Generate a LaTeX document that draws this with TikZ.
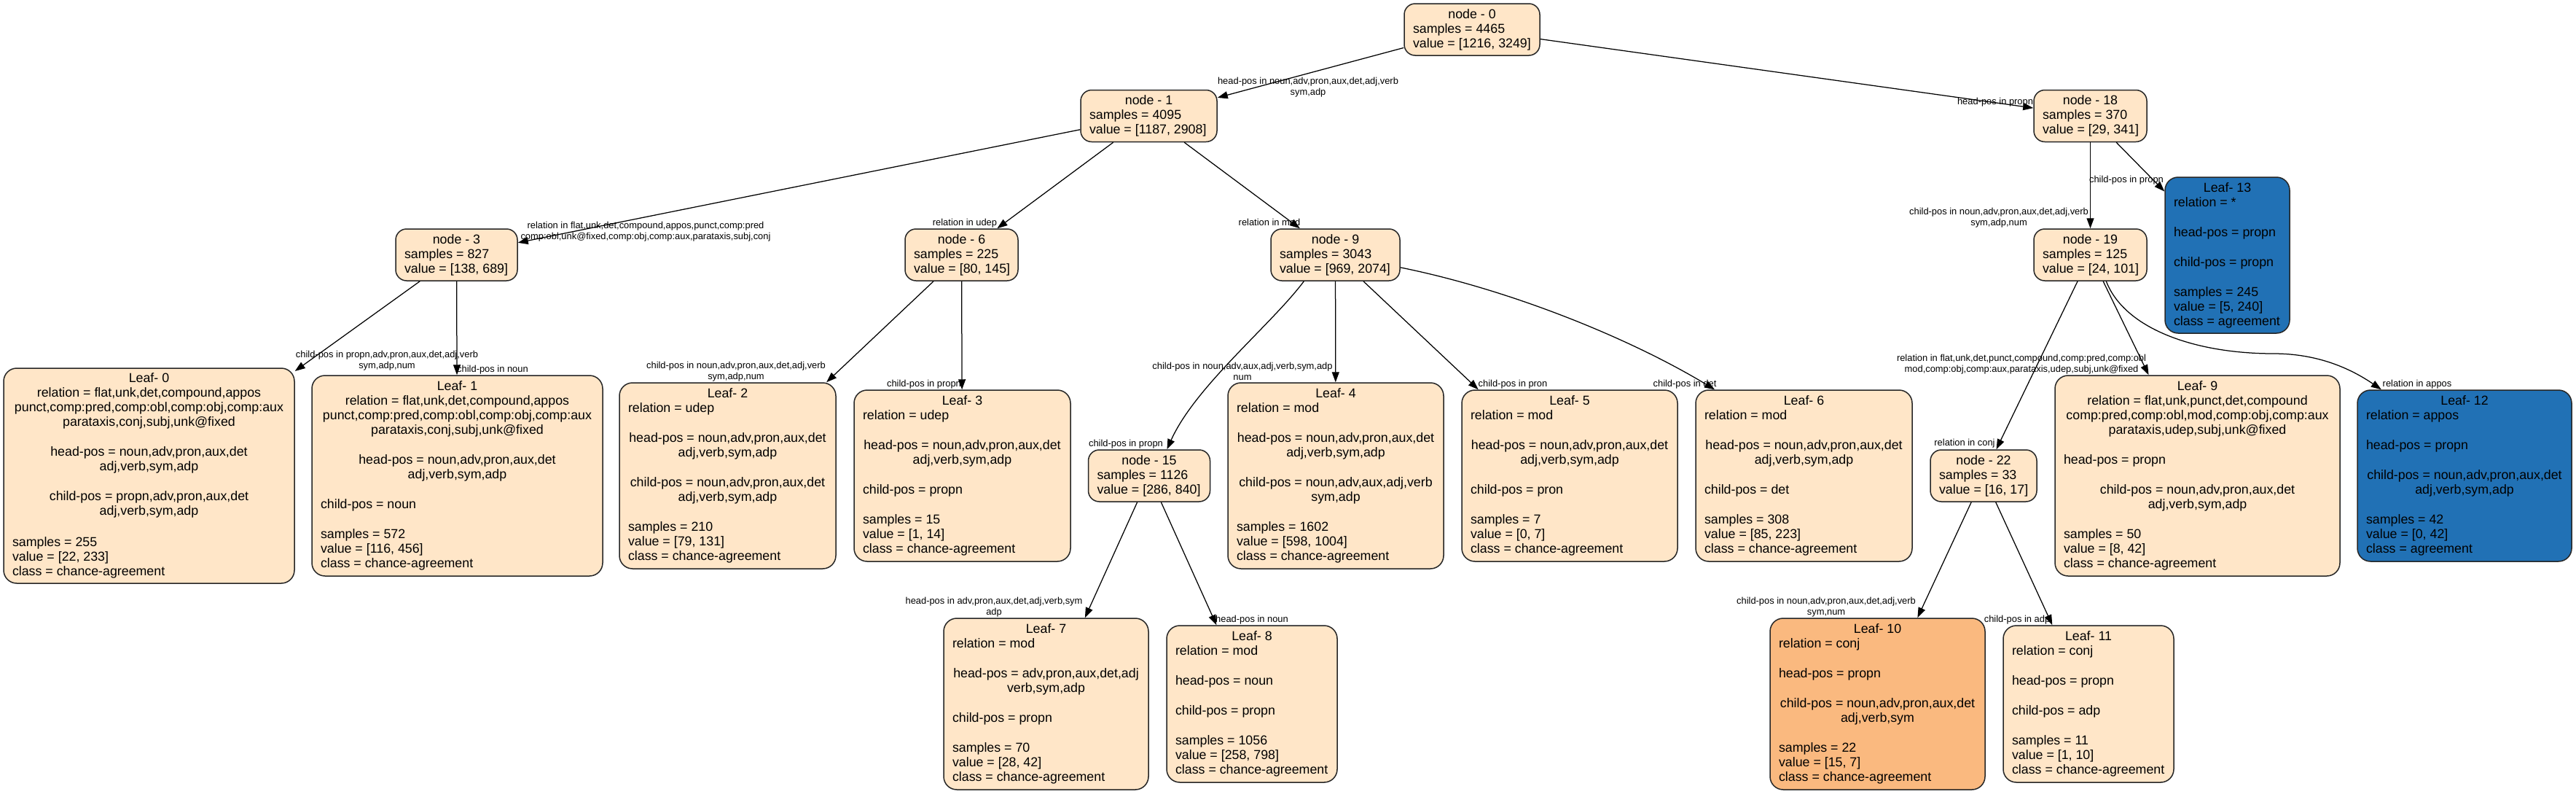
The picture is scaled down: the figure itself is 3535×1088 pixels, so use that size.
\documentclass[tikz,border=0pt]{standalone}
\usepackage{fontspec}
\setmainfont{Liberation Sans}
\usetikzlibrary{arrows.meta}
\definecolor{bisq}{HTML}{FFE6C8}
\definecolor{orng}{HTML}{FAB97F}
\definecolor{blu}{HTML}{2171B5}
\newcommand\CL[1]{\hbox to \hsize{\hss#1\hss}}
\newcommand\LL[1]{\hbox to \hsize{#1\hss}}
\newcommand\GP{\vskip21pt}
\newcommand\NB[2]{\vbox{\hsize=\dimexpr#1pt-24pt\relax\baselineskip=20pt\lineskiplimit=-100pt\lineskip=0pt #2}}
\tikzset{
  box/.style={draw=black!85, line width=1.5pt, fill=bisq, rounded corners=15pt, inner sep=0pt,
    font=\fontsize{17.8}{20}\selectfont},
  leafbox/.style={box, rounded corners=18pt},
  elab/.style={font=\fontsize{12.9}{15}\selectfont, align=center, inner sep=0pt},
  edge/.style={line width=1.25pt, draw=black, -{Triangle[length=14pt,width=10pt]}},
}
\begin{document}
\begin{tikzpicture}[x=1pt,y=-1pt]
\useasboundingbox[fill=white] (0,0) rectangle (3535,1088);

% internal nodes
\node[box, minimum width=186pt, minimum height=71pt] (n0) at (2020,40.5) {\NB{186}{\CL{node - 0}\LL{samples = 4465}\LL{value = [1216, 3249]}}};
\node[box, minimum width=187pt, minimum height=71pt] (n1) at (1576.5,159) {\NB{187}{\CL{node - 1}\LL{samples = 4095}\LL{value = [1187, 2908]}}};
\node[box, minimum width=155pt, minimum height=71pt] (n18) at (2868.5,159) {\NB{155}{\CL{node - 18}\LL{samples = 370}\LL{value = [29, 341]}}};
\node[box, minimum width=167pt, minimum height=71pt] (n3) at (626.5,349.5) {\NB{167}{\CL{node - 3}\LL{samples = 827}\LL{value = [138, 689]}}};
\node[box, minimum width=155pt, minimum height=71pt] (n6) at (1319.5,349.5) {\NB{155}{\CL{node - 6}\LL{samples = 225}\LL{value = [80, 145]}}};
\node[box, minimum width=177pt, minimum height=71pt] (n9) at (1832.5,349.5) {\NB{177}{\CL{node - 9}\LL{samples = 3043}\LL{value = [969, 2074]}}};
\node[box, minimum width=155pt, minimum height=71pt] (n19) at (2868.5,349.5) {\NB{155}{\CL{node - 19}\LL{samples = 125}\LL{value = [24, 101]}}};
\node[box, minimum width=167pt, minimum height=71pt] (n15) at (1577,652.5) {\NB{167}{\CL{node - 15}\LL{samples = 1126}\LL{value = [286, 840]}}};
\node[box, minimum width=146pt, minimum height=71pt] (n22) at (2722,652.5) {\NB{146}{\CL{node - 22}\LL{samples = 33}\LL{value = [16, 17]}}};

% leaves
\node[leafbox, fill=blu, minimum width=171pt, minimum height=214pt] (L13) at (3056.5,350) {\NB{171}{\CL{Leaf- 13}\LL{relation = *}\GP\LL{head-pos = propn}\GP\LL{child-pos = propn}\GP\LL{samples = 245}\LL{value = [5, 240]}\LL{class = agreement}}};
\node[leafbox, minimum width=399pt, minimum height=295pt] (L0) at (204.5,652.5) {\NB{399}{\CL{Leaf- 0}\CL{relation = flat,unk,det,compound,appos}\CL{punct,comp:pred,comp:obl,comp:obj,comp:aux}\CL{parataxis,conj,subj,unk@fixed}\GP\CL{head-pos = noun,adv,pron,aux,det}\CL{adj,verb,sym,adp}\GP\CL{child-pos = propn,adv,pron,aux,det}\CL{adj,verb,sym,adp}\vskip23pt\LL{samples = 255}\LL{value = [22, 233]}\LL{class = chance-agreement}}};
\node[leafbox, minimum width=399pt, minimum height=275pt] (L1) at (627.5,652.5) {\NB{399}{\CL{Leaf- 1}\CL{relation = flat,unk,det,compound,appos}\CL{punct,comp:pred,comp:obl,comp:obj,comp:aux}\CL{parataxis,conj,subj,unk@fixed}\GP\CL{head-pos = noun,adv,pron,aux,det}\CL{adj,verb,sym,adp}\GP\LL{child-pos = noun}\GP\LL{samples = 572}\LL{value = [116, 456]}\LL{class = chance-agreement}}};
\node[leafbox, minimum width=297pt, minimum height=255pt] (L2) at (998.5,652.5) {\NB{297}{\CL{Leaf- 2}\LL{relation = udep}\GP\CL{head-pos = noun,adv,pron,aux,det}\CL{adj,verb,sym,adp}\GP\CL{child-pos = noun,adv,pron,aux,det}\CL{adj,verb,sym,adp}\GP\LL{samples = 210}\LL{value = [79, 131]}\LL{class = chance-agreement}}};
\node[leafbox, minimum width=297pt, minimum height=235pt] (L3) at (1320.5,652.5) {\NB{297}{\CL{Leaf- 3}\LL{relation = udep}\GP\CL{head-pos = noun,adv,pron,aux,det}\CL{adj,verb,sym,adp}\GP\LL{child-pos = propn}\GP\LL{samples = 15}\LL{value = [1, 14]}\LL{class = chance-agreement}}};
\node[leafbox, minimum width=296pt, minimum height=255pt] (L4) at (1833,652.5) {\NB{296}{\CL{Leaf- 4}\LL{relation = mod}\GP\CL{head-pos = noun,adv,pron,aux,det}\CL{adj,verb,sym,adp}\GP\CL{child-pos = noun,adv,aux,adj,verb}\CL{sym,adp}\GP\LL{samples = 1602}\LL{value = [598, 1004]}\LL{class = chance-agreement}}};
\node[leafbox, minimum width=296pt, minimum height=235pt] (L5) at (2154,652.5) {\NB{296}{\CL{Leaf- 5}\LL{relation = mod}\GP\CL{head-pos = noun,adv,pron,aux,det}\CL{adj,verb,sym,adp}\GP\LL{child-pos = pron}\GP\LL{samples = 7}\LL{value = [0, 7]}\LL{class = chance-agreement}}};
\node[leafbox, minimum width=297pt, minimum height=235pt] (L6) at (2475.5,652.5) {\NB{297}{\CL{Leaf- 6}\LL{relation = mod}\GP\CL{head-pos = noun,adv,pron,aux,det}\CL{adj,verb,sym,adp}\GP\LL{child-pos = det}\GP\LL{samples = 308}\LL{value = [85, 223]}\LL{class = chance-agreement}}};
\node[leafbox, minimum width=391pt, minimum height=275pt] (L9) at (3015.5,652.5) {\NB{391}{\CL{Leaf- 9}\CL{relation = flat,unk,punct,det,compound}\CL{comp:pred,comp:obl,mod,comp:obj,comp:aux}\CL{parataxis,udep,subj,unk@fixed}\GP\LL{head-pos = propn}\GP\CL{child-pos = noun,adv,pron,aux,det}\CL{adj,verb,sym,adp}\GP\LL{samples = 50}\LL{value = [8, 42]}\LL{class = chance-agreement}}};
\node[leafbox, fill=blu, minimum width=294pt, minimum height=235pt] (L12) at (3382,652.5) {\NB{294}{\CL{Leaf- 12}\LL{relation = appos}\GP\LL{head-pos = propn}\GP\CL{child-pos = noun,adv,pron,aux,det}\CL{adj,verb,sym,adp}\GP\LL{samples = 42}\LL{value = [0, 42]}\LL{class = agreement}}};
\node[leafbox, minimum width=281pt, minimum height=235pt] (L7) at (1435.5,965.5) {\NB{281}{\CL{Leaf- 7}\LL{relation = mod}\GP\CL{head-pos = adv,pron,aux,det,adj}\CL{verb,sym,adp}\GP\LL{child-pos = propn}\GP\LL{samples = 70}\LL{value = [28, 42]}\LL{class = chance-agreement}}};
\node[leafbox, minimum width=234pt, minimum height=215pt] (L8) at (1718,965.5) {\NB{234}{\CL{Leaf- 8}\LL{relation = mod}\GP\LL{head-pos = noun}\GP\LL{child-pos = propn}\GP\LL{samples = 1056}\LL{value = [258, 798]}\LL{class = chance-agreement}}};
\node[leafbox, fill=orng, minimum width=295pt, minimum height=235pt] (L10) at (2576.5,965.5) {\NB{295}{\CL{Leaf- 10}\LL{relation = conj}\GP\LL{head-pos = propn}\GP\CL{child-pos = noun,adv,pron,aux,det}\CL{adj,verb,sym}\GP\LL{samples = 22}\LL{value = [15, 7]}\LL{class = chance-agreement}}};
\node[leafbox, minimum width=234pt, minimum height=215pt] (L11) at (2866,965.5) {\NB{234}{\CL{Leaf- 11}\LL{relation = conj}\GP\LL{head-pos = propn}\GP\LL{child-pos = adp}\GP\LL{samples = 11}\LL{value = [1, 10]}\LL{class = chance-agreement}}};

% edge labels
\node[elab] (t1) at (1795,119.5) {head-pos in noun,adv,pron,aux,det,adj,verb\\sym,adp};
\node[elab] (t2) at (2738,140) {head-pos in propn};
\node[elab] (t3) at (886,318) {relation in flat,unk,det,compound,appos,punct,comp:pred\\comp:obl,unk@fixed,comp:obj,comp:aux,parataxis,subj,conj};
\node[elab] (t4) at (1324,306) {relation in udep};
\node[elab] (t5) at (1742,305) {relation in mod};
\node[elab] (t6) at (531,494.5) {child-pos in propn,adv,pron,aux,det,adj,verb\\sym,adp,num};
\node[elab] (t7) at (676,507) {child-pos in noun};
\node[elab] (t8) at (1010,510) {child-pos in noun,adv,pron,aux,det,adj,verb\\sym,adp,num};
\node[elab] (t9) at (1268,527) {child-pos in propn};
\node[elab] (t10) at (1705,509.5) {child-pos in noun,adv,aux,adj,verb,sym,adp\\num};
\node[elab] (t11) at (1545,609) {child-pos in propn};
\node[elab] (t12) at (2076,527) {child-pos in pron};
\node[elab] (t13) at (2312,527) {child-pos in det};
\node[elab] (t14) at (1364,832.5) {head-pos in adv,pron,aux,det,adj,verb,sym\\adp};
\node[elab] (t15) at (1718,850) {head-pos in noun};
\node[elab] (t16) at (2743,298.5) {child-pos in noun,adv,pron,aux,det,adj,verb\\sym,adp,num};
\node[elab] (t17) at (2918,247) {child-pos in propn};
\node[elab] (t18) at (2774,500) {relation in flat,unk,det,punct,compound,comp:pred,comp:obl\\mod,comp:obj,comp:aux,parataxis,udep,subj,unk@fixed};
\node[elab] (t19) at (2696,608) {relation in conj};
\node[elab] (t20) at (3317,527) {relation in appos};
\node[elab] (t21) at (2506,832.5) {child-pos in noun,adv,pron,aux,det,adj,verb\\sym,num};
\node[elab] (t22) at (2768,850) {child-pos in adp};

% edges
\draw[edge] (n0) -- (n1);
\draw[edge] (n0) -- (n18);
\draw[edge] (n1) -- (n3);
\draw[edge] (n1) -- (n6);
\draw[edge] (n1) -- (n9);
\draw[edge] (n3) -- (L0);
\draw[edge] (n3) -- (L1);
\draw[edge] (n6) -- (L2);
\draw[edge] (n6) -- (L3);
\draw[edge] (n9.-140) .. controls (1745,445) and (1640,530) .. (n15.56);
\draw[edge] (n9) -- (L4);
\draw[edge] (n9) -- (L5);
\draw[edge] (n9.-11) .. controls (2071,397) and (2235,463) .. (L6.136);
\draw[edge] (n15) -- (L7);
\draw[edge] (n15) -- (L8);
\draw[edge] (n18) -- (n19);
\draw[edge] (n18) -- (L13);
\draw[edge] (n19) -- (n22);
\draw[edge] (n19) -- (L9);
\coordinate (v1912) at (3120,485);
\draw[edge] (n19.-59) .. controls (2915,450) and (3010,485) .. (v1912) .. controls (3180,485) and (3225,505) .. (L12.134);
\draw[edge] (n22) -- (L10);
\draw[edge] (n22) -- (L11);
\end{tikzpicture}
\end{document}
